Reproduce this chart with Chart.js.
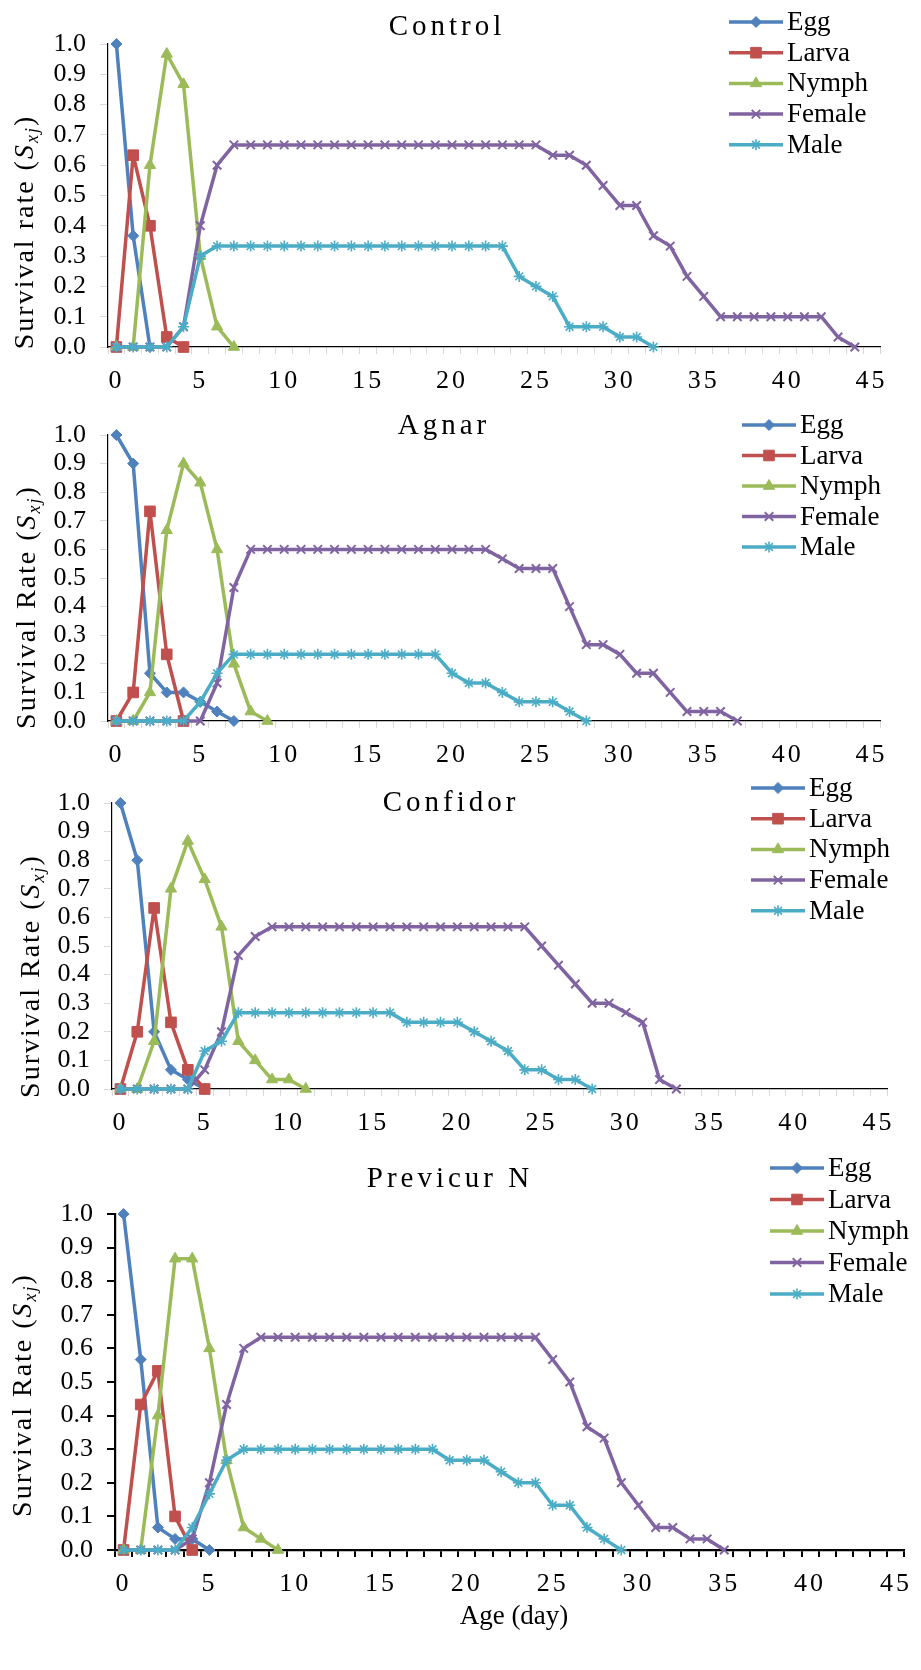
<!DOCTYPE html>
<html>
<head>
<meta charset="utf-8">
<script src="https://cdn.jsdelivr.net/npm/chart.js@4.4.0/dist/chart.umd.min.js"></script>
<style>
  body { margin: 0; background: #fff; width: 921px; height: 1670px; position: relative; overflow: hidden; }
  canvas { position: absolute; left: 0; }
</style>
</head>
<body>
<canvas id="c1" width="921" height="395" style="top:0px"></canvas>
<canvas id="c2" width="921" height="370" style="top:395px"></canvas>
<canvas id="c3" width="921" height="370" style="top:765px"></canvas>
<canvas id="c4" width="921" height="535" style="top:1135px"></canvas>
<script>
// age in days, one category per day
const ageLabels = ['0','1','2','3','4','5','6','7','8','9','10','11','12','13','14','15',
  '16','17','18','19','20','21','22','23','24','25','26','27','28','29','30','31','32',
  '33','34','35','36','37','38','39','40','41','42','43','44','45'];

const stageNames = ['Egg', 'Larva', 'Nymph', 'Female', 'Male'];

// Control
const controlEgg = [1, 0.367, 0];
const controlLarva = [0, 0.633, 0.4, 0.033, 0];
const controlNymph = [0, 0, 0.6, 0.967, 0.867, 0.3, 0.067, 0];
const controlFemale = [0, 0, 0, 0, 0.067, 0.4, 0.6, 0.667, 0.667, 0.667, 0.667, 0.667, 0.667,
  0.667, 0.667, 0.667, 0.667, 0.667, 0.667, 0.667, 0.667, 0.667, 0.667, 0.667, 0.667, 0.667,
  0.633, 0.633, 0.6, 0.533, 0.467, 0.467, 0.367, 0.333, 0.233, 0.167, 0.1, 0.1, 0.1,
  0.1, 0.1, 0.1, 0.1, 0.033, 0];
const controlMale = [0, 0, 0, 0, 0.067, 0.3, 0.333, 0.333, 0.333, 0.333, 0.333, 0.333, 0.333,
  0.333, 0.333, 0.333, 0.333, 0.333, 0.333, 0.333, 0.333, 0.333, 0.333, 0.333, 0.233, 0.2,
  0.167, 0.067, 0.067, 0.067, 0.033, 0.033, 0];

// Agnar
const agnarEgg = [1, 0.9, 0.167, 0.1, 0.1, 0.067, 0.033, 0];
const agnarLarva = [0, 0.1, 0.733, 0.233, 0];
const agnarNymph = [0, 0, 0.1, 0.667, 0.9, 0.833, 0.6, 0.2, 0.033, 0];
const agnarFemale = [0, 0, 0, 0, 0, 0, 0.133, 0.467, 0.6, 0.6, 0.6, 0.6, 0.6, 0.6, 0.6, 0.6,
  0.6, 0.6, 0.6, 0.6, 0.6, 0.6, 0.6, 0.567, 0.533, 0.533, 0.533, 0.4, 0.267, 0.267, 0.233,
  0.167, 0.167, 0.1, 0.033, 0.033, 0.033, 0];
const agnarMale = [0, 0, 0, 0, 0, 0.067, 0.167, 0.233, 0.233, 0.233, 0.233, 0.233, 0.233,
  0.233, 0.233, 0.233, 0.233, 0.233, 0.233, 0.233, 0.167, 0.133, 0.133, 0.1, 0.067, 0.067,
  0.067, 0.033, 0];

// Confidor
const confidorEgg = [1, 0.8, 0.2, 0.067, 0.033, 0];
const confidorLarva = [0, 0.2, 0.633, 0.233, 0.067, 0];
const confidorNymph = [0, 0, 0.167, 0.7, 0.867, 0.733, 0.567, 0.167, 0.1, 0.033, 0.033, 0];
const confidorFemale = [0, 0, 0, 0, 0, 0.067, 0.2, 0.467, 0.533, 0.567, 0.567, 0.567, 0.567,
  0.567, 0.567, 0.567, 0.567, 0.567, 0.567, 0.567, 0.567, 0.567, 0.567, 0.567, 0.567, 0.5,
  0.433, 0.367, 0.3, 0.3, 0.267, 0.233, 0.033, 0];
const confidorMale = [0, 0, 0, 0, 0, 0.133, 0.167, 0.267, 0.267, 0.267, 0.267, 0.267, 0.267,
  0.267, 0.267, 0.267, 0.267, 0.233, 0.233, 0.233, 0.233, 0.2, 0.167, 0.133, 0.067, 0.067,
  0.033, 0.033, 0];

// Previcur N
const previcurEgg = [1, 0.567, 0.067, 0.033, 0.033, 0];
const previcurLarva = [0, 0.433, 0.533, 0.1, 0];
const previcurNymph = [0, 0, 0.4, 0.867, 0.867, 0.6, 0.267, 0.067, 0.033, 0];
const previcurFemale = [0, 0, 0, 0, 0.033, 0.2, 0.433, 0.6, 0.633, 0.633, 0.633, 0.633, 0.633,
  0.633, 0.633, 0.633, 0.633, 0.633, 0.633, 0.633, 0.633, 0.633, 0.633, 0.633, 0.633, 0.567,
  0.5, 0.367, 0.333, 0.2, 0.133, 0.067, 0.067, 0.033, 0.033, 0];
const previcurMale = [0, 0, 0, 0, 0.067, 0.167, 0.267, 0.3, 0.3, 0.3, 0.3, 0.3, 0.3, 0.3, 0.3,
  0.3, 0.3, 0.3, 0.3, 0.267, 0.267, 0.267, 0.233, 0.2, 0.2, 0.133, 0.133, 0.067, 0.033, 0];

const yTicks = [0, 0.1, 0.2, 0.3, 0.4, 0.5, 0.6, 0.7, 0.8, 0.9, 1.0];

// look
const serif = '"Liberation Serif", "Times New Roman", serif';
const stageColors = ['#4F81BD', '#C0504D', '#9BBB59', '#8064A2', '#4BACC6'];
const stageMarkers = ['rectRot', 'rect', 'triangle', 'crossRot', 'star'];
const markerSize = [5.5, 7.5, 6.5, 6, 5.5];
const markerLine = [1, 1, 1, 2, 1.6];

Chart.defaults.font.family = serif;
Chart.defaults.color = '#000';

// titles, legend and axis titles placed like the Excel original
const decoPlugin = {
  id: 'deco',
  afterDraw(chart, args, o) {
    const ctx = chart.ctx;
    ctx.save();
    ctx.fillStyle = '#000';

    // panel title with spaced letters
    ctx.font = '29px ' + serif;
    ctx.letterSpacing = '4px';
    ctx.textAlign = 'center';
    ctx.textBaseline = 'alphabetic';
    ctx.fillText(o.title, o.titleX, o.titleY);
    ctx.letterSpacing = '0px';

    // legend
    chart.data.datasets.forEach((ds, i) => {
      const y = o.legY + i * o.legStep;
      ctx.strokeStyle = ds.borderColor;
      ctx.lineWidth = 3.5;
      ctx.beginPath();
      ctx.moveTo(o.legX, y);
      ctx.lineTo(o.legX + 54, y);
      ctx.stroke();
      ctx.fillStyle = ds.backgroundColor;
      ctx.lineWidth = ds.pointBorderWidth;
      Chart.helpers.drawPoint(ctx, {
        pointStyle: ds.pointStyle, radius: ds.pointRadius,
        borderWidth: ds.pointBorderWidth, rotation: 0
      }, o.legX + 27, y);
      ctx.fillStyle = '#000';
      ctx.font = '27px ' + serif;
      ctx.textAlign = 'left';
      ctx.textBaseline = 'middle';
      ctx.fillText(ds.label, o.legX + 58, y + 1);
    });

    // y axis title: Survival rate (S_xj)
    ctx.translate(o.yTitleX, o.yTitleY);
    ctx.rotate(-Math.PI / 2);
    ctx.textAlign = 'left';
    ctx.textBaseline = 'middle';
    ctx.letterSpacing = '2px';
    const fs = 28;
    const parts = [
      { t: o.yTitle + ' (', f: fs + 'px ' + serif, dy: 0 },
      { t: 'S', f: 'italic ' + fs + 'px ' + serif, dy: 0 },
      { t: 'xj', f: 'italic ' + Math.round(fs * 0.65) + 'px ' + serif, dy: fs * 0.25 },
      { t: ')', f: fs + 'px ' + serif, dy: 0 }
    ];
    let total = 0;
    parts.forEach(p => { ctx.font = p.f; p.w = ctx.measureText(p.t).width; total += p.w; });
    let x = -total / 2;
    parts.forEach(p => { ctx.font = p.f; ctx.fillText(p.t, x, p.dy); x += p.w; });
    ctx.restore();

    if (o.xTitle) {
      ctx.save();
      ctx.fillStyle = '#000';
      ctx.font = '27px ' + serif;
      ctx.textAlign = 'center';
      ctx.textBaseline = 'middle';
      ctx.fillText(o.xTitle, o.xTitleX, o.xTitleY);
      ctx.restore();
    }
  }
};

// x tick labels in the original are slightly spaced out
function spacedLabels(scale, spacing) {
  if (scale._spaced) return;
  const draw = scale.drawLabels.bind(scale);
  scale.drawLabels = area => {
    scale.ctx.save();
    scale.ctx.letterSpacing = spacing;
    draw(area);
    scale.ctx.restore();
  };
  scale._spaced = true;
}

function makePanel(id, series, area, deco, axisStyle) {
  const canvas = document.getElementById(id);
  const H = canvas.height;
  const datasets = series.map((data, i) => ({
    label: stageNames[i],
    data: data,
    borderColor: stageColors[i],
    backgroundColor: stageColors[i],
    borderWidth: 3.5,
    borderJoinStyle: 'round',
    pointStyle: stageMarkers[i],
    pointRadius: markerSize[i],
    pointBorderWidth: markerLine[i],
    pointBackgroundColor: stageColors[i],
    pointBorderColor: stageColors[i],
    tension: 0,
    clip: false,
    order: 4 - i
  }));
  return new Chart(canvas, {
    type: 'line',
    data: { labels: ageLabels, datasets: datasets },
    options: {
      responsive: false,
      animation: false,
      events: [],
      devicePixelRatio: 1,
      layout: { padding: { left: 0, top: area.top, right: 921 - area.right, bottom: 0 } },
      plugins: { legend: { display: false }, title: { display: false }, tooltip: { enabled: false }, deco: deco },
      scales: {
        x: {
          type: 'category',
          offset: true,
          grid: { offset: true, drawOnChartArea: false, drawTicks: true, tickLength: 7,
            color: axisStyle.tick, lineWidth: axisStyle.tickWidth },
          border: { display: true, color: '#000', width: axisStyle.axisWidth },
          ticks: {
            autoSkip: false, maxRotation: 0, padding: 12,
            font: { size: 26, family: serif },
            callback: (v, i) => (i % 5 === 0 ? ageLabels[i] : '')
          },
          afterFit: s => { s.height = H - area.bottom; spacedLabels(s, '3px'); }
        },
        y: {
          min: 0, max: 1,
          afterBuildTicks: s => { s.ticks = yTicks.map(v => ({ value: v })); },
          grid: { drawOnChartArea: false, drawTicks: true, tickLength: 8,
            color: axisStyle.tick, lineWidth: axisStyle.tickWidth },
          border: { display: true, color: '#000', width: axisStyle.axisWidth },
          ticks: {
            autoSkip: false,
            padding: 14,
            font: { size: 26, family: serif },
            callback: v => Number(v).toFixed(1)
          },
          afterFit: s => { s.width = area.left; }
        }
      }
    },
    plugins: [decoPlugin]
  });
}

const lightAxis = { tick: '#d9d9d9', tickWidth: 1, axisWidth: 1.2 };
const darkAxis = { tick: '#000', tickWidth: 2, axisWidth: 2.2 };

makePanel('c1', [controlEgg, controlLarva, controlNymph, controlFemale, controlMale],
  { top: 44, bottom: 347, left: 108, right: 880 },
  { title: 'Control', titleX: 447, titleY: 35, legX: 729, legY: 22, legStep: 30.7,
    yTitle: 'Survival rate', yTitleX: 26, yTitleY: 232 }, lightAxis);

makePanel('c2', [agnarEgg, agnarLarva, agnarNymph, agnarFemale, agnarMale],
  { top: 40, bottom: 326, left: 108, right: 880 },
  { title: 'Agnar', titleX: 444, titleY: 39, legX: 742, legY: 30, legStep: 30.5,
    yTitle: 'Survival Rate', yTitleX: 28, yTitleY: 212 }, lightAxis);

makePanel('c3', [confidorEgg, confidorLarva, confidorNymph, confidorFemale, confidorMale],
  { top: 38, bottom: 324, left: 112, right: 887 },
  { title: 'Confidor', titleX: 451, titleY: 46, legX: 751, legY: 23, legStep: 30.7,
    yTitle: 'Survival Rate', yTitleX: 32, yTitleY: 211 }, lightAxis);

makePanel('c4', [previcurEgg, previcurLarva, previcurNymph, previcurFemale, previcurMale],
  { top: 79, bottom: 415, left: 115, right: 915 },
  { title: 'Previcur N', titleX: 450, titleY: 52, legX: 770, legY: 33, legStep: 31.5,
    yTitle: 'Survival Rate', yTitleX: 24, yTitleY: 260,
    xTitle: 'Age (day)', xTitleX: 514, xTitleY: 482 }, darkAxis);
</script>
</body>
</html>
